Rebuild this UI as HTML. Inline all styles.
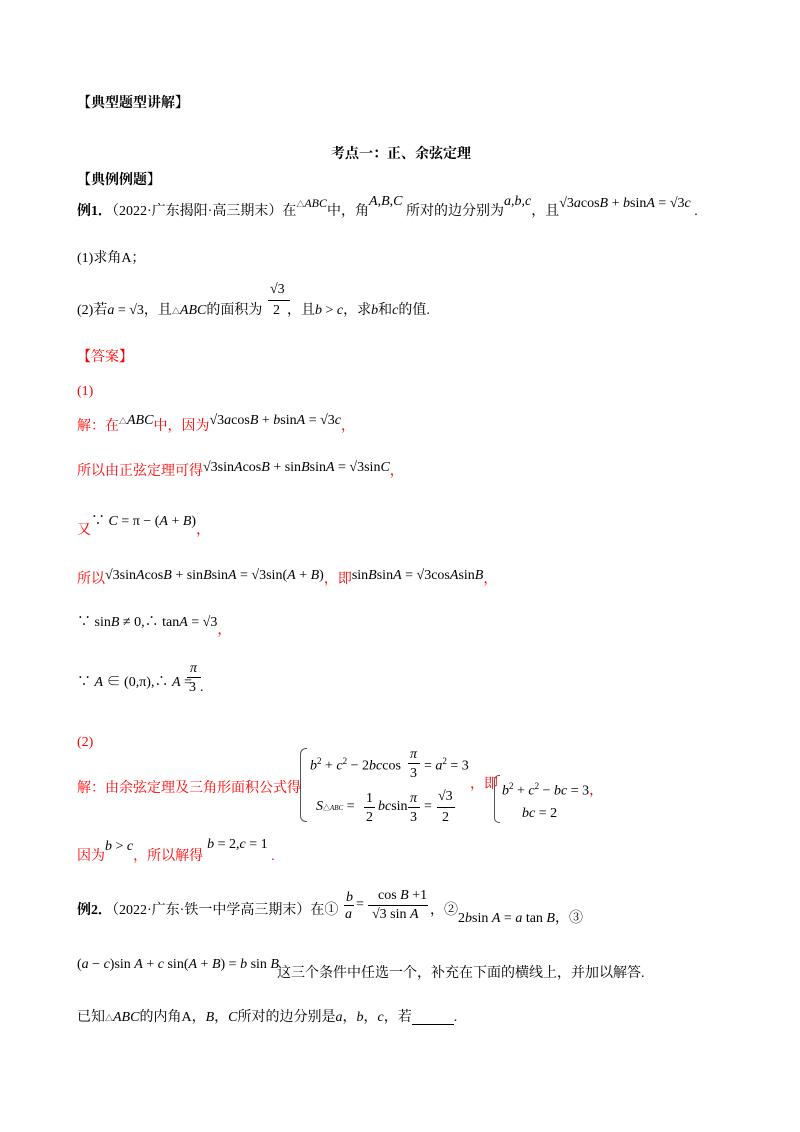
<!DOCTYPE html>
<html><head><meta charset="utf-8"><style>
body{margin:0;background:#fff;width:800px;height:1132px;position:relative;overflow:hidden;font-family:"Liberation Serif","Noto Serif CJK SC","Noto Sans CJK SC",serif;font-size:14px;color:#000}
.a{position:absolute;white-space:nowrap;line-height:1}
.r{color:#f00}
.b{font-weight:bold}
i{font-style:italic}
.s{font-size:12px}
</style></head><body>
<div class="a b" style="left:77px;top:97px">【典型题型讲解】</div>
<div class="a b" style="left:331px;top:148px">考点一：正、余弦定理</div>
<div class="a b" style="left:77px;top:174px">【典例例题】</div>

<div class="a" style="left:77px;top:205px"><b>例1．</b>（2022·广东揭阳·高三期末）在<span class="s" style="position:relative;top:-8px"><span style="font-size:8px">△</span><i>ABC</i></span>中，角<span style="position:relative;top:-10px"><i>A</i>,<i>B</i>,<i>C</i></span> 所对的边分别为<span style="position:relative;top:-10px"><i>a</i>,<i>b</i>,<i>c</i></span>，且<span style="position:relative;top:-8px">√3<i>a</i>cos<i>B</i> + <i>b</i>sin<i>A</i> = √3<i>c</i></span> .</div>
<div class="a" style="left:77px;top:252px">(1)求角A；</div>
<div class="a" style="left:77px;top:304px">(2)若<i>a</i> = √3，且<span style="font-size:8px">△</span><i>ABC</i>的面积为</div>
<div class="a" style="left:270px;top:283px">√3</div>
<div class="a" style="left:268px;top:300px;width:22px;border-top:1px solid #000"></div>
<div class="a" style="left:273px;top:304px">2&nbsp;&nbsp;，且<i>b</i> &gt; <i>c</i>，求<i>b</i>和<i>c</i>的值.</div>

<div class="a r" style="left:77px;top:351px">【答案】</div>
<div class="a r" style="left:77px;top:385px">(1)</div>
<div class="a" style="left:77px;top:420px"><span class="r">解：在</span><span style="position:relative;top:-6px"><span style="font-size:8px">△</span><i>ABC</i></span><span class="r">中，因为</span><span style="position:relative;top:-6px">√3<i>a</i>cos<i>B</i> + <i>b</i>sin<i>A</i> = √3<i>c</i></span><span class="r">，</span></div>
<div class="a" style="left:77px;top:465px"><span class="r">所以由正弦定理可得</span><span style="position:relative;top:-4px">√3sin<i>A</i>cos<i>B</i> + sin<i>B</i>sin<i>A</i> = √3sin<i>C</i></span><span class="r">，</span></div>
<div class="a" style="left:77px;top:524px"><span class="r">又</span><span style="position:relative;top:-9px">∵ <i>C</i> = π − (<i>A</i> + <i>B</i>)</span><span class="r">，</span></div>
<div class="a" style="left:77px;top:573px"><span class="r">所以</span><span style="position:relative;top:-4px">√3sin<i>A</i>cos<i>B</i> + sin<i>B</i>sin<i>A</i> = √3sin(<i>A</i> + <i>B</i>)</span><span class="r">，即</span><span style="position:relative;top:-4px">sin<i>B</i>sin<i>A</i> = √3cos<i>A</i>sin<i>B</i></span><span class="r">，</span></div>
<div class="a" style="left:77px;top:616px">∵ sin<i>B</i> ≠ 0,∴ tan<i>A</i> = √3<span class="r" style="position:relative;top:8px">，</span></div>
<div class="a" style="left:77px;top:676px">∵ <i>A</i> ∈ (0,π),∴ <i>A</i> =</div>
<div class="a" style="left:190px;top:662px"><i>π</i></div>
<div class="a" style="left:187px;top:677px;width:14px;border-top:1px solid #000"></div>
<div class="a" style="left:189px;top:681px">3<span style="margin-left:4px">.</span></div>
<div class="a r" style="left:77px;top:736px">(2)</div>

<div class="a r" style="left:77px;top:782px">解：由余弦定理及三角形面积公式得</div>
<div class="a" style="left:300px;top:748px;width:6px;height:72px;border:1px solid #555;border-right:none;border-radius:6px 0 0 6px"></div>
<div class="a" style="left:310px;top:757px"><i>b</i><sup style="font-size:9px">2</sup> + <i>c</i><sup style="font-size:9px">2</sup> − 2<i>bc</i>cos</div>
<div class="a" style="left:410px;top:748px"><i>π</i></div>
<div class="a" style="left:408px;top:763px;width:12px;border-top:1px solid #000"></div>
<div class="a" style="left:410px;top:767px">3</div>
<div class="a" style="left:424px;top:757px">= <i>a</i><sup style="font-size:9px">2</sup> = 3</div>
<div class="a" style="left:316px;top:800px"><i>S</i><span style="font-size:7px">△<i>ABC</i></span> =</div>
<div class="a" style="left:366px;top:792px">1</div>
<div class="a" style="left:364px;top:807px;width:11px;border-top:1px solid #000"></div>
<div class="a" style="left:366px;top:811px">2</div>
<div class="a" style="left:378px;top:800px"><i>bc</i>sin</div>
<div class="a" style="left:410px;top:792px"><i>π</i></div>
<div class="a" style="left:408px;top:807px;width:12px;border-top:1px solid #000"></div>
<div class="a" style="left:410px;top:811px">3</div>
<div class="a" style="left:424px;top:800px">=</div>
<div class="a" style="left:438px;top:790px">√3</div>
<div class="a" style="left:437px;top:807px;width:18px;border-top:1px solid #000"></div>
<div class="a" style="left:442px;top:811px">2</div>
<div class="a r" style="left:470px;top:778px">，即</div>
<div class="a" style="left:494px;top:775px;width:5px;height:46px;border:1px solid #555;border-right:none;border-radius:5px 0 0 5px"></div>
<div class="a" style="left:502px;top:782px"><i>b</i><sup style="font-size:9px">2</sup> + <i>c</i><sup style="font-size:9px">2</sup> − <i>bc</i> = 3<span class="r">，</span></div>
<div class="a" style="left:522px;top:807px"><i>bc</i> = 2</div>

<div class="a" style="left:77px;top:850px"><span class="r">因为</span><span style="position:relative;top:-10px"><i>b</i> &gt; <i>c</i></span><span class="r">，所以解得</span><span style="position:relative;top:-12px;margin-left:4px"><i>b</i> = 2,<i>c</i> = 1</span> <span class="r">.</span></div>

<div class="a" style="left:77px;top:904px"><b>例2．</b>（2022·广东·铁一中学高三期末）在①</div>
<div class="a" style="left:346px;top:891px"><i>b</i></div>
<div class="a" style="left:344px;top:905px;width:10px;border-top:1px solid #000"></div>
<div class="a" style="left:345px;top:908px"><i>a</i></div>
<div class="a" style="left:356px;top:898px">=</div>
<div class="a" style="left:378px;top:889px">cos <i>B</i> +1</div>
<div class="a" style="left:368px;top:905px;width:60px;border-top:1px solid #000"></div>
<div class="a" style="left:372px;top:908px">√3 sin <i>A</i></div>
<div class="a" style="left:430px;top:904px">，②</div>
<div class="a" style="left:458px;top:912px">2<i>b</i>sin <i>A</i> = <i>a</i> tan <i>B</i>，③</div>

<div class="a" style="left:77px;top:958px">(<i>a</i> − <i>c</i>)sin <i>A</i> + <i>c</i> sin(<i>A</i> + <i>B</i>) = <i>b</i> sin <i>B</i></div>
<div class="a" style="left:277px;top:967px">这三个条件中任选一个，补充在下面的横线上，并加以解答.</div>
<div class="a" style="left:77px;top:1011px">已知<span style="font-size:8px">△</span><i>ABC</i>的内角A，<i>B</i>，<i>C</i>所对的边分别是<i>a</i>，<i>b</i>，<i>c</i>，若<span style="display:inline-block;width:42px;border-bottom:1px solid #000;height:13px;vertical-align:bottom"></span>.</div>
</body></html>
